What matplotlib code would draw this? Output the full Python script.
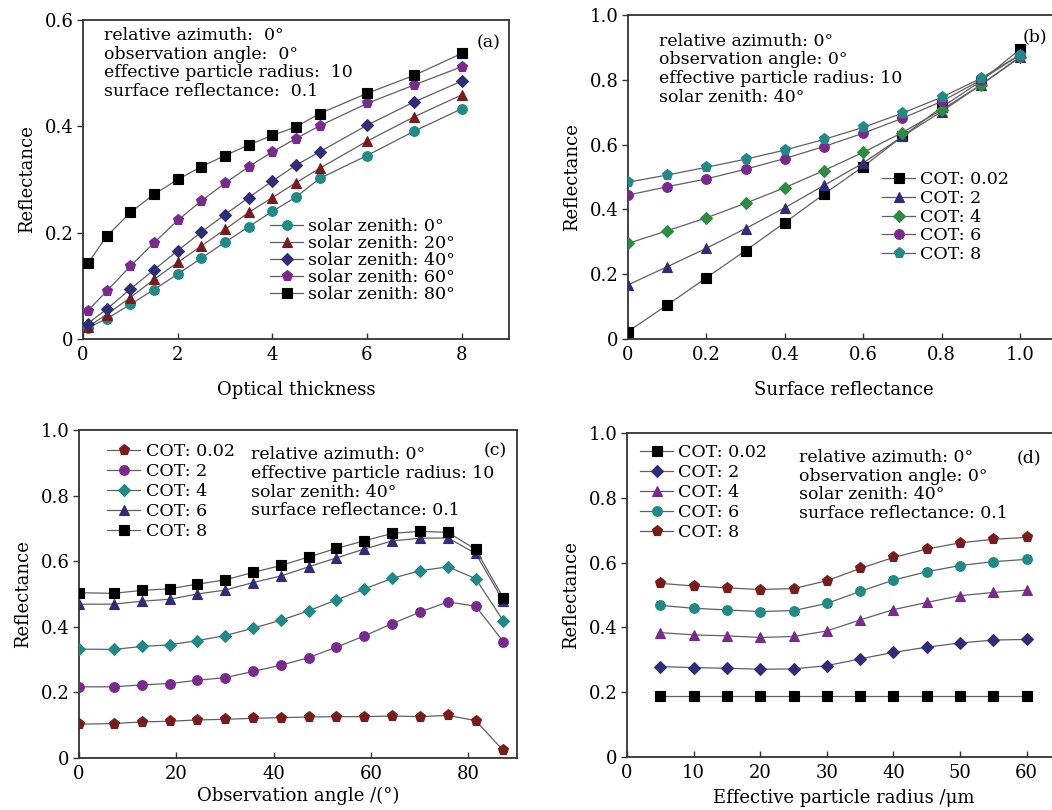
import matplotlib
matplotlib.use("Agg")
import matplotlib.pyplot as plt

plt.rcParams['font.family'] = ['DejaVu Serif']
plt.rcParams['mathtext.fontset'] = 'dejavuserif'

# ---------------- data ----------------
# (a) reflectance vs optical thickness
a_x = [0.1, 0.5, 1, 1.5, 2, 2.5, 3, 3.5, 4, 4.5, 5, 6, 7, 8]
a_sz0 = [0.021, 0.038, 0.065, 0.093, 0.122, 0.152, 0.182, 0.211, 0.240, 0.267, 0.302, 0.345, 0.391, 0.433]
a_sz20 = [0.023, 0.046, 0.078, 0.112, 0.144, 0.175, 0.206, 0.238, 0.266, 0.294, 0.321, 0.372, 0.418, 0.459]
a_sz40 = [0.029, 0.056, 0.094, 0.130, 0.166, 0.201, 0.234, 0.266, 0.297, 0.327, 0.352, 0.402, 0.446, 0.485]
a_sz60 = [0.053, 0.090, 0.137, 0.181, 0.223, 0.260, 0.293, 0.324, 0.352, 0.377, 0.401, 0.443, 0.478, 0.512]
a_sz80 = [0.142, 0.193, 0.238, 0.272, 0.300, 0.324, 0.345, 0.365, 0.383, 0.399, 0.424, 0.462, 0.496, 0.537]
a_labels = ['solar zenith: 0°', 'solar zenith: 20°', 'solar zenith: 40°',
            'solar zenith: 60°', 'solar zenith: 80°']

# (b) reflectance vs surface reflectance
b_x = [0.0, 0.1, 0.2, 0.3, 0.4, 0.5, 0.6, 0.7, 0.8, 0.9, 1.0]
b_cot002 = [0.023, 0.105, 0.189, 0.273, 0.359, 0.447, 0.532, 0.625, 0.715, 0.795, 0.894]
b_cot2 = [0.167, 0.223, 0.280, 0.341, 0.405, 0.474, 0.543, 0.625, 0.702, 0.784, 0.871]
b_cot4 = [0.295, 0.334, 0.374, 0.419, 0.467, 0.520, 0.576, 0.637, 0.707, 0.784, 0.869]
b_cot6 = [0.444, 0.470, 0.494, 0.524, 0.557, 0.594, 0.635, 0.681, 0.733, 0.799, 0.877]
b_cot8 = [0.484, 0.506, 0.530, 0.555, 0.583, 0.616, 0.653, 0.697, 0.746, 0.804, 0.877]

cot_labels = ['COT: 0.02', 'COT: 2', 'COT: 4', 'COT: 6', 'COT: 8']

# (c) reflectance vs observation angle
c_x = [0, 7.1, 12.9, 18.6, 24.3, 30.0, 35.8, 41.5, 47.2, 52.9, 58.6, 64.4, 70.1, 75.8, 81.5, 87.2]
c_cot002 = [0.103, 0.105, 0.110, 0.112, 0.116, 0.118, 0.121, 0.123, 0.125, 0.126, 0.126, 0.128, 0.126, 0.130, 0.114, 0.023]
c_cot2 = [0.217, 0.217, 0.223, 0.227, 0.237, 0.245, 0.264, 0.283, 0.306, 0.338, 0.372, 0.410, 0.445, 0.476, 0.463, 0.355]
c_cot4 = [0.332, 0.331, 0.340, 0.345, 0.358, 0.373, 0.396, 0.420, 0.449, 0.482, 0.515, 0.548, 0.571, 0.583, 0.547, 0.418]
c_cot6 = [0.469, 0.469, 0.478, 0.484, 0.500, 0.512, 0.535, 0.555, 0.583, 0.610, 0.637, 0.662, 0.670, 0.671, 0.624, 0.478]
c_cot8 = [0.504, 0.502, 0.511, 0.516, 0.530, 0.543, 0.566, 0.587, 0.613, 0.639, 0.662, 0.685, 0.691, 0.688, 0.636, 0.488]

# (d) reflectance vs effective particle radius
d_x = [5, 10, 15, 20, 25, 30, 35, 40, 45, 50, 55, 60]
d_cot002 = [0.189, 0.189, 0.189, 0.189, 0.189, 0.189, 0.189, 0.189, 0.189, 0.189, 0.189, 0.189]
d_cot2 = [0.279, 0.276, 0.274, 0.271, 0.272, 0.282, 0.303, 0.323, 0.339, 0.352, 0.361, 0.363]
d_cot4 = [0.384, 0.377, 0.374, 0.369, 0.372, 0.389, 0.423, 0.455, 0.477, 0.498, 0.508, 0.515]
d_cot6 = [0.468, 0.459, 0.454, 0.449, 0.452, 0.474, 0.511, 0.546, 0.572, 0.591, 0.603, 0.610]
d_cot8 = [0.536, 0.528, 0.522, 0.517, 0.520, 0.544, 0.582, 0.616, 0.642, 0.661, 0.672, 0.678]

# ---------------- styles ----------------
TEAL = '#1f8a86'
DRED = '#7a1b1b'
NAVY = '#2e2e78'
PURP = '#7a2a8e'
BLACK = '#000000'
GREEN = '#2e8b42'
LINE = '#606060'
SPINE = '#333333'

FS_TICK = 13
FS_LAB = 13
FS_LEG = 12.6
FS_TXT = 12.5
LINE_STEP_PT = 13.4  # vertical distance between annotation lines, points


def plot_series(ax, x, y, marker, color, label, ms=7):
    ax.plot(x, y, color=LINE, lw=0.9, marker=marker, ms=ms, mfc=color,
            mec=color, mew=0.8, label=label, zorder=3)


def style(ax, xlim, ylim, xticks, xticklabels, yticks, yticklabels):
    ax.set_xlim(*xlim)
    ax.set_ylim(*ylim)
    ax.set_xticks(xticks)
    ax.set_xticklabels(xticklabels, fontsize=FS_TICK)
    ax.set_yticks(yticks)
    ax.set_yticklabels(yticklabels, fontsize=FS_TICK)
    for s in ax.spines.values():
        s.set_color(SPINE)
        s.set_linewidth(1.3)
    ax.tick_params(axis='y', direction='out', length=4, width=1, color=SPINE, pad=3)
    ax.tick_params(axis='x', direction='in', length=4, width=1, color=SPINE, pad=5)


def legend(ax, x, y, spacing=0.15):
    ax.legend(loc='upper left', bbox_to_anchor=(x, y), frameon=False,
              fontsize=FS_LEG, handlelength=1.9, handletextpad=0.3,
              labelspacing=spacing, borderpad=0, borderaxespad=0)


def note(ax, x, y, lines):
    for i, line in enumerate(lines):
        ax.annotate(line, xy=(x, y), xycoords='axes fraction',
                    xytext=(0, -i * LINE_STEP_PT), textcoords='offset points',
                    ha='left', va='top', fontsize=FS_TXT)


fig = plt.figure(figsize=(10.52, 8.10), dpi=100)

# ---- (a) ----
ax = fig.add_axes([0.0789, 0.5815, 0.4049, 0.3938])
plot_series(ax, a_x, a_sz0, 'o', TEAL, a_labels[0])
plot_series(ax, a_x, a_sz20, '^', DRED, a_labels[1])
plot_series(ax, a_x, a_sz40, 'D', NAVY, a_labels[2], ms=6.5)
plot_series(ax, a_x, a_sz60, 'p', PURP, a_labels[3], ms=8)
plot_series(ax, a_x, a_sz80, 's', BLACK, a_labels[4], ms=6.5)
style(ax, (0, 9), (0, 0.6), [0, 2, 4, 6, 8], ['0', '2', '4', '6', '8'],
      [0, 0.2, 0.4, 0.6], ['0', '0.2', '0.4', '0.6'])
ax.set_xlabel('Optical thickness', fontsize=FS_LAB, labelpad=12)
ax.set_ylabel('Reflectance', fontsize=FS_LAB, labelpad=6)
legend(ax, 0.439, 0.378, spacing=0.0)
note(ax, 0.049, 0.978, ['relative azimuth:  0°', 'observation angle:  0°',
                         'effective particle radius:  10', 'surface reflectance:  0.1'])
ax.text(0.979, 0.928, '(a)', transform=ax.transAxes, ha='right', va='center', fontsize=FS_TXT)

# ---- (b) ----
ax = fig.add_axes([0.597, 0.5815, 0.4097, 0.4000])
plot_series(ax, b_x, b_cot002, 's', BLACK, cot_labels[0], ms=6.5)
plot_series(ax, b_x, b_cot2, '^', NAVY, cot_labels[1])
plot_series(ax, b_x, b_cot4, 'D', GREEN, cot_labels[2], ms=6.5)
plot_series(ax, b_x, b_cot6, 'o', PURP, cot_labels[3])
plot_series(ax, b_x, b_cot8, 'p', TEAL, cot_labels[4], ms=8)
style(ax, (0, 1.1), (0, 1.0), [0, 0.2, 0.4, 0.6, 0.8, 1.0],
      ['0', '0.2', '0.4', '0.6', '0.8', '1.0'],
      [0, 0.2, 0.4, 0.6, 0.8, 1.0], ['0', '0.2', '0.4', '0.6', '0.8', '1.0'])
ax.set_xlabel('Surface reflectance', fontsize=FS_LAB, labelpad=12)
ax.set_ylabel('Reflectance', fontsize=FS_LAB, labelpad=6)
legend(ax, 0.589, 0.518, spacing=0.1)
note(ax, 0.072, 0.945, ['relative azimuth: 0°', 'observation angle: 0°',
                         'effective particle radius: 10', 'solar zenith: 40°'])
ax.text(0.916, 0.932, '(b)', transform=ax.transAxes, ha='left', va='center', fontsize=FS_TXT)

# ---- (c) ----
ax = fig.add_axes([0.0751, 0.0642, 0.4163, 0.4049])
plot_series(ax, c_x, c_cot002, 'p', DRED, cot_labels[0], ms=8)
plot_series(ax, c_x, c_cot2, 'o', PURP, cot_labels[1])
plot_series(ax, c_x, c_cot4, 'D', TEAL, cot_labels[2], ms=6.5)
plot_series(ax, c_x, c_cot6, '^', NAVY, cot_labels[3])
plot_series(ax, c_x, c_cot8, 's', BLACK, cot_labels[4], ms=6.5)
style(ax, (0, 90), (0, 1.0), [0, 20, 40, 60, 80], ['0', '20', '40', '60', '80'],
      [0, 0.2, 0.4, 0.6, 0.8, 1.0], ['0', '0.2', '0.4', '0.6', '0.8', '1.0'])
ax.set_xlabel('Observation angle /(°)', fontsize=FS_LAB, labelpad=3)
ax.set_ylabel('Reflectance', fontsize=FS_LAB, labelpad=6)
legend(ax, 0.064, 0.96, spacing=0.17)
note(ax, 0.393, 0.95, ['relative azimuth: 0°', 'effective particle radius: 10',
                        'solar zenith: 40°', 'surface reflectance: 0.1'])
ax.text(0.977, 0.935, '(c)', transform=ax.transAxes, ha='right', va='center', fontsize=FS_TXT)

# ---- (d) ----
ax = fig.add_axes([0.596, 0.0654, 0.4116, 0.4000])
plot_series(ax, d_x, d_cot002, 's', BLACK, cot_labels[0], ms=6.5)
plot_series(ax, d_x, d_cot2, 'D', NAVY, cot_labels[1], ms=6.5)
plot_series(ax, d_x, d_cot4, '^', PURP, cot_labels[2])
plot_series(ax, d_x, d_cot6, 'o', TEAL, cot_labels[3])
plot_series(ax, d_x, d_cot8, 'p', DRED, cot_labels[4], ms=8)
style(ax, (0, 65), (0, 1.0), [0, 10, 20, 30, 40, 50, 60],
      ['0', '10', '20', '30', '40', '50', '60'],
      [0, 0.2, 0.4, 0.6, 0.8, 1.0], ['0', '0.2', '0.4', '0.6', '0.8', '1.0'])
ax.set_xlabel('Effective particle radius /μm', fontsize=FS_LAB, labelpad=5)
ax.set_ylabel('Reflectance', fontsize=FS_LAB, labelpad=6)
legend(ax, 0.03, 0.965, spacing=0.17)
note(ax, 0.397, 0.95, ['relative azimuth: 0°', 'observation angle: 0°',
                        'solar zenith: 40°', 'surface reflectance: 0.1'])
ax.text(0.956, 0.923, '(d)', transform=ax.transAxes, ha='right', va='center', fontsize=FS_TXT)

fig.savefig('out.png', dpi=100)
